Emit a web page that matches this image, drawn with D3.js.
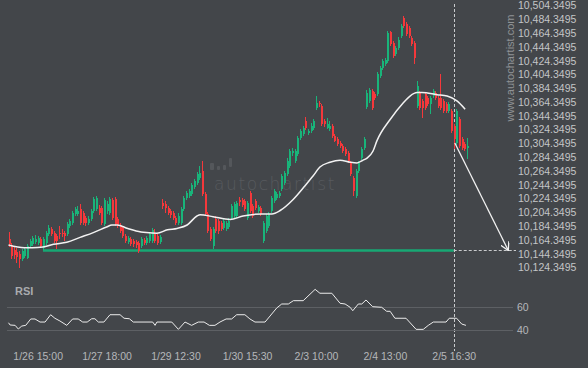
<!DOCTYPE html>
<html>
<head>
<meta charset="utf-8">
<script src="https://cdn.jsdelivr.net/npm/d3@7"></script>
<style>
	html, body { margin: 0; padding: 0; background: #43464a; }
	svg { display: block; font-family: "Liberation Sans", Arial, sans-serif; }
</style>
</head>
<body>
<div id="chart"></div>
<script>
// candle data, one entry per bar
var opens = [10166,10157,10150,10147,10144,10137,10141,10138,10156,10159,
	10162,10160,10166,10153,10160,10173,10180,10175,10170,10175,
	10175,10175,10173,10185,10189,10202,10202,10209,10204,10196,
	10189,10195,10206,10209,10211,10211,10188,10206,10204,10222,
	10224,10195,10186,10182,10170,10162,10166,10163,10162,10160,
	10156,10164,10160,10163,10163,10175,10170,10162,10218,10217,
	10211,10206,10204,10196,10189,10189,10209,10225,10228,10231,
	10241,10247,10254,10264,10231,10202,10180,10156,10195,10192,
	10189,10182,10180,10183,10196,10199,10199,10222,10222,10221,
	10196,10232,10214,10221,10206,10211,10163,10177,10185,10206,
	10221,10225,10228,10238,10247,10260,10272,10290,10279,10289,
	10312,10318,10337,10319,10322,10327,10356,10363,10358,10337,
	10327,10325,10330,10315,10311,10305,10301,10296,10290,10276,
	10254,10228,10264,10283,10298,10357,10366,10380,10376,10376,
	10402,10413,10419,10424,10466,10450,10434,10442,10460,10486,
	10477,10471,10457,10450,10358,10377,10366,10376,10370,10361,
	10373,10377,10370,10370,10366,10361,10351,10351,10330,10305,
	10340,10311,10303,10298];
var highs = [10176,10160,10154,10153,10149,10151,10154,10159,10166,10170,
	10172,10170,10169,10169,10178,10186,10183,10178,10173,10185,
	10180,10178,10191,10195,10206,10212,10214,10217,10206,10199,
	10199,10209,10227,10228,10215,10214,10225,10221,10227,10225,
	10227,10198,10189,10185,10173,10170,10169,10166,10164,10163,
	10169,10167,10170,10176,10182,10180,10173,10172,10224,10221,
	10214,10209,10206,10199,10204,10212,10228,10235,10238,10247,
	10253,10263,10272,10279,10234,10205,10183,10183,10199,10195,
	10192,10195,10192,10196,10217,10219,10221,10227,10225,10224,
	10221,10235,10217,10224,10215,10214,10192,10202,10205,10228,
	10238,10234,10235,10260,10264,10283,10296,10298,10296,10315,
	10325,10330,10343,10325,10334,10340,10373,10366,10361,10340,
	10341,10337,10332,10318,10314,10308,10303,10299,10293,10279,
	10257,10267,10279,10299,10314,10382,10385,10383,10379,10408,
	10416,10427,10428,10467,10468,10453,10445,10458,10477,10489,
	10480,10474,10460,10453,10395,10380,10369,10379,10373,10373,
	10383,10380,10373,10405,10369,10364,10364,10354,10332,10354,
	10343,10314,10306,10312];
var lows = [10154,10137,10137,10131,10124,10134,10138,10137,10153,10156,
	10159,10157,10153,10150,10157,10170,10170,10160,10151,10166,
	10169,10163,10170,10182,10186,10199,10199,10186,10186,10185,
	10186,10192,10204,10206,10201,10186,10185,10202,10201,10193,
	10185,10182,10175,10167,10160,10159,10156,10154,10153,10146,
	10153,10157,10157,10160,10160,10160,10157,10159,10209,10204,
	10201,10196,10193,10186,10186,10186,10206,10222,10225,10228,
	10238,10244,10251,10228,10199,10175,10163,10151,10175,10173,
	10177,10179,10177,10180,10193,10196,10196,10214,10212,10206,
	10193,10204,10196,10208,10204,10199,10160,10175,10182,10204,
	10218,10222,10225,10235,10244,10257,10269,10286,10276,10286,
	10309,10315,10324,10317,10319,10324,10353,10357,10330,10328,
	10325,10322,10312,10306,10301,10298,10290,10286,10276,10257,
	10228,10225,10261,10280,10295,10354,10363,10353,10367,10373,
	10399,10411,10416,10421,10445,10428,10431,10440,10457,10471,
	10460,10457,10445,10419,10356,10353,10341,10353,10358,10347,
	10370,10367,10356,10353,10348,10348,10348,10319,10296,10302,
	10298,10295,10293,10282];
var closes = [10159,10141,10143,10140,10137,10149,10151,10156,10163,10167,
	10166,10167,10156,10166,10175,10182,10173,10163,10163,10173,
	10173,10170,10188,10192,10204,10209,10206,10189,10189,10189,
	10195,10206,10224,10225,10204,10189,10222,10217,10224,10196,
	10188,10185,10177,10170,10163,10167,10159,10159,10157,10149,
	10166,10160,10167,10173,10179,10163,10160,10169,10214,10211,
	10204,10201,10196,10189,10199,10209,10225,10233,10235,10244,
	10250,10260,10261,10231,10202,10177,10166,10180,10177,10177,
	10180,10192,10189,10192,10214,10217,10218,10219,10215,10209,
	10218,10206,10199,10211,10212,10202,10189,10199,10202,10225,
	10235,10231,10233,10257,10261,10279,10293,10293,10293,10312,
	10322,10327,10327,10322,10330,10337,10363,10361,10332,10332,
	10332,10330,10315,10308,10303,10301,10293,10289,10279,10260,
	10235,10264,10276,10296,10311,10377,10382,10356,10370,10405,
	10413,10424,10425,10464,10448,10431,10442,10455,10474,10474,
	10463,10460,10448,10428,10387,10356,10356,10356,10361,10370,
	10380,10370,10358,10356,10351,10351,10361,10322,10311,10351,
	10301,10298,10296,10301];

// moving average, read at some bars
var maIdx = [0, 6, 9, 13, 17, 22, 27, 32, 37, 39, 41, 45, 50, 52, 56, 60, 63.6, 67.4, 71.1, 72.3, 77.2,
	83.6, 88.5, 95.7, 99.4, 102.5, 107.4, 111.9, 114.9, 117.5, 121.3, 125.1, 128.9, 131.5, 133.8, 135.3,
	137.5, 139, 144, 148.9, 151.5, 154.2, 156, 161.7, 165.5, 169.2, 172.3];
var maVal = [10157, 10153, 10153, 10154, 10158, 10161, 10168, 10175, 10183, 10186, 10186, 10181, 10176, 10175,
	10174, 10179, 10181, 10186, 10199, 10201, 10198, 10194, 10199, 10202, 10202, 10207, 10223, 10243, 10257,
	10270, 10277, 10280, 10277, 10276, 10280, 10283, 10293, 10308, 10339, 10363, 10373, 10378, 10378, 10375,
	10373, 10366, 10354];

// RSI line
var rsiIdx = [0, 0.6, 2.5, 3.7, 5, 6.5, 8.4, 10, 11.9, 13.8, 15.9, 17.5, 19.4, 22, 24.2, 26.3, 28, 29.7, 31.4,
	32.6, 33.9, 36, 38.3, 42.1, 43.6, 45.6, 47.1, 54.4, 55.3, 56, 61.6, 64.1, 66.6, 69.1, 71.6, 73.8, 75.8, 77.9,
	79.8, 82.1, 84.2, 86.1, 89.2, 91.1, 93, 96.8, 101.2, 103.1, 105.6, 107.5, 111.2, 115.7, 117.5, 122, 125.1,
	127, 128.9, 129.9, 132, 133.3, 134.9, 137.4, 140.8, 142.7, 144, 145.8, 150, 153.8, 156.5, 158.4, 160.3,
	165.1, 166.3, 169.1, 171, 172.6];
var rsiVal = [46.4, 44.5, 44.2, 41.1, 43.6, 44.2, 49.6, 49.6, 47, 47, 53.2, 50.2, 47.9, 44.2, 49.6, 49.6, 47, 47,
	49.8, 49.8, 47, 47, 53.2, 53.2, 50.2, 49.8, 47, 47, 44.2, 47, 47, 40.8, 47, 44.2, 47, 47, 44.2, 44.2, 47,
	49.6, 49.6, 53.2, 53.2, 49.6, 47, 47, 58.9, 62.3, 62.3, 65.1, 65.1, 74.7, 71.4, 71.4, 62.9, 62.3, 59.5,
	56.6, 62.3, 62.3, 65.7, 60, 59.5, 56.1, 56.1, 50.2, 50.2, 40.8, 40.8, 44.2, 47, 47, 50.2, 50.2, 45.3, 44.2];
var rsiLevels = [40, 60];

// axis ticks
var timeIdx = [11, 37, 63, 90, 116, 142, 168];
var timeLabels = ["1/26 15:00", "1/27 18:00", "1/29 12:30", "1/30 15:30", "2/3 10:00", "2/4 13:00", "2/5 16:30"];
var priceTicks = [10124.3495, 10144.3495, 10164.3495, 10184.3495, 10204.3495, 10224.3495, 10244.3495,
	10264.3495, 10284.3495, 10304.3495, 10324.3495, 10344.3495, 10364.3495, 10384.3495, 10404.3495,
	10424.3495, 10444.3495, 10464.3495, 10484.3495, 10504.3495];

// pattern: support level, signal bar and forecast
var supportLevel = 10149;
var supportFrom = 13;
var signalIdx = 168;
var arrowFrom = [168.4, 10305];
var arrowTo = [188.6, 10149];

var width = 588, height = 368;
var green = "#19b47a", red = "#f5383b";

var svg = d3.select("#chart")
	.append("svg")
	.attr("width", width)
	.attr("height", height);

svg.append("rect")
	.attr("width", width)
	.attr("height", height)
	.attr("fill", "#43464a");

// scales
var x = d3.scaleLinear().domain([0, 173]).range([8.5, 467]);
var y = d3.scaleLinear().domain([10124.3495, 10504.3495]).range([267.5, 5.5]);
var rsiY = d3.scaleLinear().domain([40, 60]).range([330.3, 306.7]);

// watermarks
var logo = svg.append("g").attr("fill", "#54575b");
[[210, 163, 4, 7], [217, 166, 3, 4], [223, 165, 3, 5], [229, 158, 3, 9]].forEach(function (b) {
	logo.append("rect").attr("x", b[0]).attr("y", b[1]).attr("width", b[2]).attr("height", b[3]).attr("rx", 1);
});
svg.append("text")
	.attr("x", 214)
	.attr("y", 190)
	.style("font-size", "17px")
	.style("letter-spacing", "1.6px")
	.style("font-family", "'DejaVu Sans', sans-serif")
	.style("font-weight", "200")
	.attr("fill", "#575a5e")
	.text("autochartist");

svg.append("text")
	.attr("transform", "translate(514,68) rotate(-90)")
	.attr("text-anchor", "middle")
	.style("font-size", "11px")
	.attr("fill", "#909396")
	.text("www.autochartist.com");

// price axis
var yAxis = svg.append("g")
	.attr("transform", "translate(518,0)")
	.call(d3.axisRight(y).tickValues(priceTicks).tickSize(0).tickPadding(0).tickFormat(d3.format(",.4f")));
yAxis.select(".domain").remove();
yAxis.selectAll("text").attr("fill", "#c3c5c7").style("font-size", "10.5px").style("font-family", "'Liberation Sans', Arial, sans-serif");

// support line
svg.append("line")
	.attr("x1", x(supportFrom)).attr("x2", x(signalIdx))
	.attr("y1", y(supportLevel)).attr("y2", y(supportLevel))
	.attr("stroke", "#17a874")
	.attr("stroke-width", 2.5);

// dashed marker lines
svg.append("line")
	.attr("x1", x(signalIdx)).attr("x2", 516)
	.attr("y1", Math.round(y(supportLevel)) - 0.5).attr("y2", Math.round(y(supportLevel)) - 0.5)
	.attr("stroke", "#c9cbcd").attr("stroke-dasharray", "3,2");
svg.append("line")
	.attr("x1", Math.round(x(signalIdx)) + 0.5).attr("x2", Math.round(x(signalIdx)) + 0.5)
	.attr("y1", 4).attr("y2", 351)
	.attr("stroke", "#c9cbcd").attr("stroke-dasharray", "3,2");

// candles
var bars = d3.range(opens.length);
var candles = svg.append("g").attr("shape-rendering", "crispEdges");
candles.selectAll(".wick")
	.data(bars)
	.enter()
	.append("line")
	.attr("x1", function (i) { return Math.round(x(i)) + 0.5; })
	.attr("x2", function (i) { return Math.round(x(i)) + 0.5; })
	.attr("y1", function (i) { return y(highs[i]); })
	.attr("y2", function (i) { return y(lows[i]); })
	.attr("stroke", function (i) { return closes[i] >= opens[i] ? green : red; });
candles.selectAll(".body")
	.data(bars)
	.enter()
	.append("rect")
	.attr("x", function (i) { return Math.round(x(i)) - 0.5; })
	.attr("width", 2)
	.attr("y", function (i) { return y(Math.max(opens[i], closes[i])); })
	.attr("height", function (i) { return Math.max(1, Math.abs(y(opens[i]) - y(closes[i]))); })
	.attr("fill", function (i) { return closes[i] >= opens[i] ? green : red; });

// moving average
var maLine = d3.line()
	.x(function (d) { return x(d); })
	.y(function (d, i) { return y(maVal[i]); })
	.curve(d3.curveMonotoneX);
svg.append("path")
	.attr("d", maLine(maIdx))
	.attr("fill", "none")
	.attr("stroke", "#f2f2f2")
	.attr("stroke-width", 1.5);

// forecast arrow
svg.append("defs").append("marker")
	.attr("id", "head")
	.attr("viewBox", "0 0 10 10")
	.attr("refX", 9).attr("refY", 5)
	.attr("markerWidth", 9).attr("markerHeight", 9)
	.attr("markerUnits", "userSpaceOnUse")
	.attr("orient", "auto")
	.append("path")
	.attr("d", "M0,0 L9,5 L0,10")
	.attr("fill", "none")
	.attr("stroke", "#f2f2f2")
	.attr("stroke-width", 1.4);
svg.append("line")
	.attr("x1", x(arrowFrom[0])).attr("y1", y(arrowFrom[1]))
	.attr("x2", x(arrowTo[0])).attr("y2", y(arrowTo[1]))
	.attr("stroke", "#f2f2f2")
	.attr("stroke-width", 1.3)
	.attr("marker-end", "url(#head)");

// RSI panel
svg.append("text")
	.attr("x", 15)
	.attr("y", 294.5)
	.style("font-size", "11px")
	.style("font-weight", "bold")
	.attr("fill", "#a9abae")
	.text("RSI");

svg.selectAll(".level")
	.data(rsiLevels)
	.enter()
	.append("line")
	.attr("x1", 7).attr("x2", 513)
	.attr("y1", function (d) { return Math.round(rsiY(d)) + 0.5; })
	.attr("y2", function (d) { return Math.round(rsiY(d)) + 0.5; })
	.attr("stroke", "#5d6064");

var rsiAxis = svg.append("g")
	.attr("transform", "translate(517,0)")
	.call(d3.axisRight(rsiY).tickValues(rsiLevels).tickSize(0).tickPadding(0));
rsiAxis.select(".domain").remove();
rsiAxis.selectAll("text").attr("fill", "#b5b7ba").style("font-size", "10.5px").style("font-family", "'Liberation Sans', Arial, sans-serif");

var rsiLine = d3.line()
	.x(function (d) { return x(d); })
	.y(function (d, i) { return rsiY(rsiVal[i]); });
svg.append("path")
	.attr("d", rsiLine(rsiIdx))
	.attr("fill", "none")
	.attr("stroke", "#ececec")
	.attr("stroke-width", 1);

// time axis
var xAxis = svg.append("g")
	.attr("transform", "translate(0,350)")
	.call(d3.axisBottom(x).tickValues(timeIdx).tickSize(0).tickPadding(3)
		.tickFormat(function (d, i) { return timeLabels[i]; }));
xAxis.select(".domain").remove();
xAxis.selectAll("text").attr("fill", "#b5b7ba").style("font-size", "10.5px").style("font-family", "'Liberation Sans', Arial, sans-serif");
</script>
</body>
</html>
